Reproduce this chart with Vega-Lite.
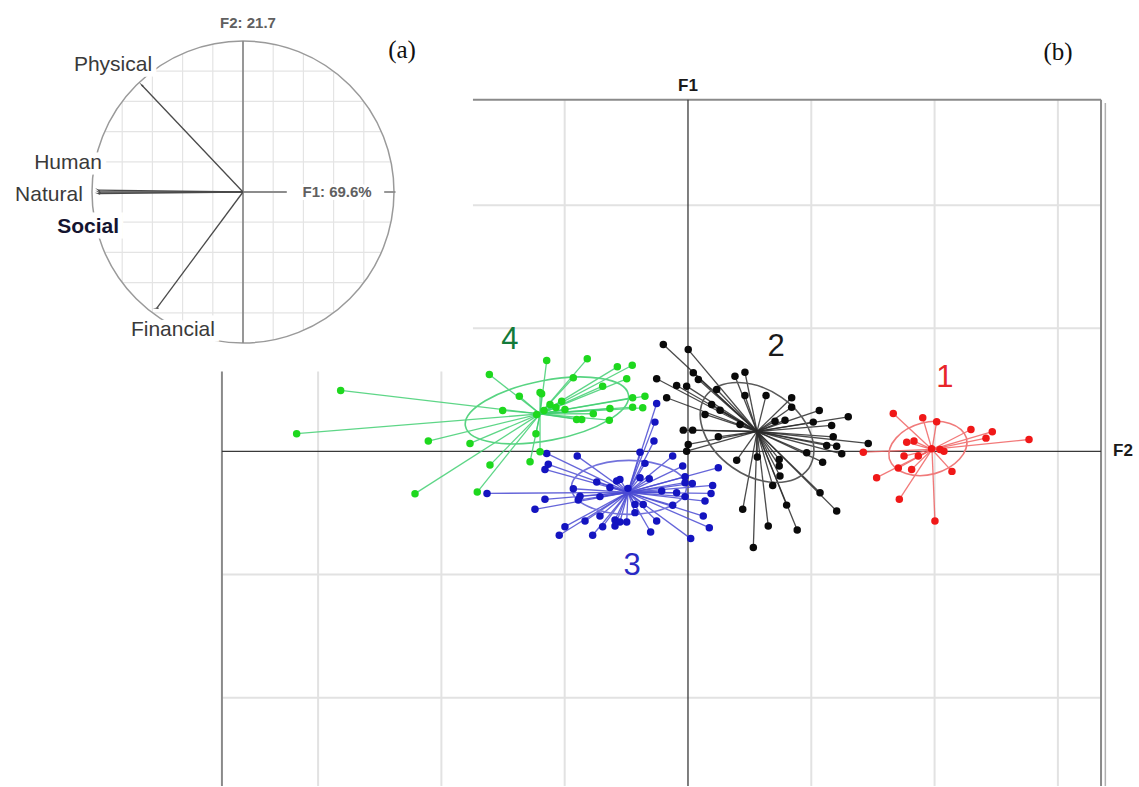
{
  "$schema": "https://vega.github.io/schema/vega-lite/v6.json",
  "width": 1139,
  "height": 787,
  "autosize": {"type": "fit", "contains": "padding"},
  "padding": 0,
  "background": "white",
  "config": {"view": {"stroke": null}},
  "datasets": {
    "gridB": [
      {"x1": -3, "y1": 0.649, "x2": -3, "y2": -2.717},
      {"x1": -2, "y1": 0.649, "x2": -2, "y2": -2.717},
      {"x1": -1, "y1": 2.855, "x2": -1, "y2": -2.717},
      {"x1": 1, "y1": 2.855, "x2": 1, "y2": -2.717},
      {"x1": 2, "y1": 2.855, "x2": 2, "y2": -2.717},
      {"x1": 3, "y1": 2.855, "x2": 3, "y2": -2.717},
      {"x1": -1.744, "y1": 2, "x2": 3.35, "y2": 2},
      {"x1": -1.744, "y1": 1, "x2": 3.35, "y2": 1},
      {"x1": -3.78, "y1": -1, "x2": 3.35, "y2": -1},
      {"x1": -3.78, "y1": -2, "x2": 3.35, "y2": -2}
    ],
    "frameB": [
      {"x1": -1.744, "y1": 2.855, "x2": 3.35, "y2": 2.855},
      {"x1": 3.35, "y1": 2.855, "x2": 3.35, "y2": -2.717},
      {"x1": -3.78, "y1": 0.649, "x2": -3.78, "y2": -2.717}
    ],
    "frameB2": [
      {"x1": 3.385, "y1": 2.83, "x2": 3.385, "y2": -2.717}
    ],
    "axisB": [
      {"x1": 0, "y1": 2.855, "x2": 0, "y2": -2.717},
      {"x1": -3.78, "y1": 0, "x2": 3.35, "y2": 0}
    ],
    "cent": [
      {"c": "1", "cx": 1.979, "cy": 0.016},
      {"c": "2", "cx": 0.560, "cy": 0.162},
      {"c": "3", "cx": -0.487, "cy": -0.333},
      {"c": "4", "cx": -1.200, "cy": 0.305}
    ],
    "ell": [
      {"c": "1", "ex": 1.946, "ey": 0.024},
      {"c": "2", "ex": 0.560, "ey": 0.154},
      {"c": "3", "ex": -0.479, "ey": -0.292},
      {"c": "4", "ex": -1.144, "ey": 0.333}
    ],
    "labB": [
      {"c": "1", "x": 2.084, "y": 0.600},
      {"c": "2", "x": 0.714, "y": 0.852},
      {"c": "3", "x": -0.454, "y": -0.933},
      {"c": "4", "x": -1.444, "y": 0.908}
    ],
    "axlabB": [
      {"t": "F1", "x": 0, "y": 2.968},
      {"t": "F2", "x": 3.528, "y": 0.0}
    ],
    "pts": [
      {"c": "1", "x": 1.665, "y": 0.308}, {"c": "1", "x": 1.904, "y": 0.273}, {"c": "1", "x": 2.017, "y": 0.241},
      {"c": "1", "x": 2.295, "y": 0.178}, {"c": "1", "x": 2.468, "y": 0.160}, {"c": "1", "x": 2.417, "y": 0.108},
      {"c": "1", "x": 2.766, "y": 0.097}, {"c": "1", "x": 1.422, "y": -0.006}, {"c": "1", "x": 1.774, "y": 0.075},
      {"c": "1", "x": 1.833, "y": 0.084}, {"c": "1", "x": 1.752, "y": -0.038}, {"c": "1", "x": 1.868, "y": -0.038},
      {"c": "1", "x": 1.976, "y": 0.022}, {"c": "1", "x": 2.076, "y": 0.002}, {"c": "1", "x": 1.706, "y": -0.135},
      {"c": "1", "x": 1.814, "y": -0.146}, {"c": "1", "x": 2.141, "y": -0.162}, {"c": "1", "x": 1.530, "y": -0.213},
      {"c": "1", "x": 1.714, "y": -0.389}, {"c": "1", "x": 2.003, "y": -0.565}, {"c": "1", "x": 2.044, "y": 0.016},

      {"c": "2", "x": -0.200, "y": 0.868}, {"c": "2", "x": 0.002, "y": 0.827}, {"c": "2", "x": -0.254, "y": 0.590},
      {"c": "2", "x": -0.092, "y": 0.535}, {"c": "2", "x": -0.011, "y": 0.530}, {"c": "2", "x": -0.173, "y": 0.436},
      {"c": "2", "x": 0.043, "y": 0.638}, {"c": "2", "x": 0.084, "y": 0.584}, {"c": "2", "x": 0.381, "y": 0.611},
      {"c": "2", "x": 0.462, "y": 0.643}, {"c": "2", "x": 0.233, "y": 0.503}, {"c": "2", "x": 0.462, "y": 0.454},
      {"c": "2", "x": 0.633, "y": 0.454}, {"c": "2", "x": 0.841, "y": 0.436}, {"c": "2", "x": 0.841, "y": 0.359},
      {"c": "2", "x": 0.192, "y": 0.381}, {"c": "2", "x": 0.260, "y": 0.335}, {"c": "2", "x": 0.138, "y": 0.300},
      {"c": "2", "x": 0.422, "y": 0.219}, {"c": "2", "x": 0.706, "y": 0.246}, {"c": "2", "x": 0.787, "y": 0.254},
      {"c": "2", "x": 1.065, "y": 0.333}, {"c": "2", "x": 1.016, "y": 0.238}, {"c": "2", "x": 1.165, "y": 0.211},
      {"c": "2", "x": 1.300, "y": 0.281}, {"c": "2", "x": 1.178, "y": 0.119}, {"c": "2", "x": 1.206, "y": 0.043},
      {"c": "2", "x": 1.125, "y": 0.049}, {"c": "2", "x": 1.247, "y": -0.019}, {"c": "2", "x": 0.963, "y": -0.011},
      {"c": "2", "x": -0.038, "y": 0.173}, {"c": "2", "x": 0.038, "y": 0.173}, {"c": "2", "x": 0.246, "y": 0.119},
      {"c": "2", "x": 0.002, "y": 0.057}, {"c": "2", "x": -0.011, "y": 0.002}, {"c": "2", "x": 0.395, "y": -0.071},
      {"c": "2", "x": 0.562, "y": -0.046}, {"c": "2", "x": 0.740, "y": -0.065}, {"c": "2", "x": 0.740, "y": -0.119},
      {"c": "2", "x": 0.746, "y": -0.200}, {"c": "2", "x": 1.092, "y": -0.087}, {"c": "2", "x": 0.687, "y": -0.276},
      {"c": "2", "x": 1.071, "y": -0.335}, {"c": "2", "x": 0.800, "y": -0.436}, {"c": "2", "x": 0.444, "y": -0.470},
      {"c": "2", "x": 1.206, "y": -0.484}, {"c": "2", "x": 0.651, "y": -0.606}, {"c": "2", "x": 0.886, "y": -0.638},
      {"c": "2", "x": 0.530, "y": -0.781}, {"c": "2", "x": 1.462, "y": 0.065},

      {"c": "3", "x": -0.254, "y": 0.389}, {"c": "3", "x": -0.268, "y": 0.238}, {"c": "3", "x": -0.276, "y": 0.084},
      {"c": "3", "x": -1.146, "y": -0.016}, {"c": "3", "x": -0.898, "y": -0.038}, {"c": "3", "x": -1.160, "y": -0.146},
      {"c": "3", "x": -1.133, "y": -0.105}, {"c": "3", "x": -0.389, "y": -0.006}, {"c": "3", "x": -0.124, "y": -0.038},
      {"c": "3", "x": -0.043, "y": -0.119}, {"c": "3", "x": -0.349, "y": -0.097}, {"c": "3", "x": -0.740, "y": -0.249},
      {"c": "3", "x": -0.578, "y": -0.241}, {"c": "3", "x": -0.552, "y": -0.227}, {"c": "3", "x": -0.389, "y": -0.213},
      {"c": "3", "x": -0.314, "y": -0.221}, {"c": "3", "x": -0.024, "y": -0.205}, {"c": "3", "x": -0.024, "y": -0.254},
      {"c": "3", "x": 0.035, "y": -0.260}, {"c": "3", "x": -0.213, "y": -0.322}, {"c": "3", "x": -0.092, "y": -0.335},
      {"c": "3", "x": -0.024, "y": -0.367}, {"c": "3", "x": 0.246, "y": -0.132}, {"c": "3", "x": 0.200, "y": -0.276},
      {"c": "3", "x": 0.187, "y": -0.341}, {"c": "3", "x": 0.138, "y": -0.403}, {"c": "3", "x": 0.124, "y": -0.525},
      {"c": "3", "x": 0.173, "y": -0.619}, {"c": "3", "x": 0.022, "y": -0.708}, {"c": "3", "x": -0.930, "y": -0.303},
      {"c": "3", "x": -0.876, "y": -0.363}, {"c": "3", "x": -0.890, "y": -0.395}, {"c": "3", "x": -0.714, "y": -0.367},
      {"c": "3", "x": -1.160, "y": -0.389}, {"c": "3", "x": -1.241, "y": -0.470}, {"c": "3", "x": -0.430, "y": -0.430},
      {"c": "3", "x": -0.363, "y": -0.430}, {"c": "3", "x": -0.124, "y": -0.438}, {"c": "3", "x": -0.430, "y": -0.497},
      {"c": "3", "x": -0.714, "y": -0.525}, {"c": "3", "x": -0.835, "y": -0.565}, {"c": "3", "x": -0.592, "y": -0.557},
      {"c": "3", "x": -0.552, "y": -0.573}, {"c": "3", "x": -0.497, "y": -0.573}, {"c": "3", "x": -0.592, "y": -0.606},
      {"c": "3", "x": -0.254, "y": -0.565}, {"c": "3", "x": -0.692, "y": -0.611}, {"c": "3", "x": -0.998, "y": -0.611},
      {"c": "3", "x": -1.044, "y": -0.681}, {"c": "3", "x": -0.773, "y": -0.681}, {"c": "3", "x": -0.303, "y": -0.654},
      {"c": "3", "x": -1.630, "y": -0.341}, {"c": "3", "x": -0.487, "y": -0.300}, {"c": "3", "x": -0.633, "y": -0.292},

      {"c": "4", "x": -3.174, "y": 0.144}, {"c": "4", "x": -2.817, "y": 0.495}, {"c": "4", "x": -2.106, "y": 0.084},
      {"c": "4", "x": -2.214, "y": -0.343}, {"c": "4", "x": -1.709, "y": -0.330}, {"c": "4", "x": -1.611, "y": 0.624},
      {"c": "4", "x": -1.768, "y": 0.065}, {"c": "4", "x": -1.606, "y": -0.111}, {"c": "4", "x": -1.146, "y": 0.738},
      {"c": "4", "x": -0.817, "y": 0.752}, {"c": "4", "x": -0.573, "y": 0.687}, {"c": "4", "x": -0.452, "y": 0.700},
      {"c": "4", "x": -0.497, "y": 0.590}, {"c": "4", "x": -0.930, "y": 0.598}, {"c": "4", "x": -0.692, "y": 0.530},
      {"c": "4", "x": -1.368, "y": 0.449}, {"c": "4", "x": -1.187, "y": 0.468}, {"c": "4", "x": -1.503, "y": 0.333},
      {"c": "4", "x": -1.227, "y": 0.300}, {"c": "4", "x": -1.024, "y": 0.408}, {"c": "4", "x": -0.998, "y": 0.341},
      {"c": "4", "x": -0.903, "y": 0.260}, {"c": "4", "x": -0.862, "y": 0.260}, {"c": "4", "x": -0.768, "y": 0.306},
      {"c": "4", "x": -0.633, "y": 0.349}, {"c": "4", "x": -0.638, "y": 0.254}, {"c": "4", "x": -0.449, "y": 0.436},
      {"c": "4", "x": -0.349, "y": 0.449}, {"c": "4", "x": -0.449, "y": 0.359}, {"c": "4", "x": -0.367, "y": 0.354},
      {"c": "4", "x": -1.233, "y": 0.144}, {"c": "4", "x": -1.200, "y": -0.002}, {"c": "4", "x": -1.281, "y": -0.084},
      {"c": "4", "x": -1.168, "y": 0.333}, {"c": "4", "x": -1.119, "y": 0.381}, {"c": "4", "x": -1.071, "y": 0.357},
      {"c": "4", "x": -1.200, "y": 0.479}
    ],
    "gridA": [
      {"x1": -0.8, "y1": -0.6, "x2": -0.8, "y2": 0.6},
      {"x1": -0.6, "y1": -0.8, "x2": -0.6, "y2": 0.8},
      {"x1": -0.4, "y1": -0.917, "x2": -0.4, "y2": 0.917},
      {"x1": -0.2, "y1": -0.98, "x2": -0.2, "y2": 0.98},
      {"x1": 0.2, "y1": -0.98, "x2": 0.2, "y2": 0.98},
      {"x1": 0.4, "y1": -0.917, "x2": 0.4, "y2": 0.917},
      {"x1": 0.6, "y1": -0.8, "x2": 0.6, "y2": 0.8},
      {"x1": 0.8, "y1": -0.6, "x2": 0.8, "y2": 0.6},
      {"y1": -0.8, "x1": -0.6, "y2": -0.8, "x2": 0.6},
      {"y1": -0.6, "x1": -0.8, "y2": -0.6, "x2": 0.8},
      {"y1": -0.4, "x1": -0.917, "y2": -0.4, "x2": 0.917},
      {"y1": -0.2, "x1": -0.98, "y2": -0.2, "x2": 0.98},
      {"y1": 0.2, "x1": -0.98, "y2": 0.2, "x2": 0.98},
      {"y1": 0.4, "x1": -0.917, "y2": 0.4, "x2": 0.917},
      {"y1": 0.6, "x1": -0.8, "y2": 0.6, "x2": 0.8},
      {"y1": 0.8, "x1": -0.6, "y2": 0.8, "x2": 0.6}
    ],
    "axisA": [
      {"x1": 0, "y1": -1, "x2": 0, "y2": 1},
      {"x1": 0, "y1": 0, "x2": 0.29, "y2": 0},
      {"x1": 0.935, "y1": 0, "x2": 1.01, "y2": 0}
    ],
    "arrA": [
      {"name": "Physical", "ax": -0.671, "ay": 0.709},
      {"name": "Human", "ax": -0.958, "ay": 0.012},
      {"name": "Natural", "ax": -0.955, "ay": 0.0},
      {"name": "Social", "ax": -0.958, "ay": -0.01},
      {"name": "Financial", "ax": -0.572, "ay": -0.770}
    ],
    "labA": [
      {"t": "Physical", "x": -0.861, "y": 0.841},
      {"t": "Human", "x": -1.159, "y": 0.192},
      {"t": "Natural", "x": -1.285, "y": -0.020},
      {"t": "Financial", "x": -0.464, "y": -0.914}
    ],
    "labAbold": [
      {"t": "Social", "x": -1.026, "y": -0.232}
    ],
    "axlabA": [
      {"t": "F2: 21.7", "x": 0.033, "y": 1.119},
      {"t": "F1: 69.6%", "x": 0.623, "y": 0.0}
    ]
  },
  "layer": [
    {
      "resolve": {"scale": {"color": "independent", "stroke": "independent"}},
      "layer": [
        {
          "data": {"name": "gridB"},
          "mark": {"type": "rule", "stroke": "#e2e2e2", "strokeWidth": 2},
          "encoding": {
            "x": {"field": "x1", "type": "quantitative", "scale": {"domain": [-5.58, 3.658], "nice": false, "zero": false}, "axis": null},
            "y": {"field": "y1", "type": "quantitative", "scale": {"domain": [-2.717, 3.666], "nice": false, "zero": false}, "axis": null},
            "x2": {"field": "x2"},
            "y2": {"field": "y2"}
          }
        },
        {
          "data": {"name": "frameB"},
          "mark": {"type": "rule", "stroke": "#8a8a8a", "strokeWidth": 2},
          "encoding": {
            "x": {"field": "x1", "type": "quantitative"},
            "y": {"field": "y1", "type": "quantitative"},
            "x2": {"field": "x2"},
            "y2": {"field": "y2"}
          }
        },
        {
          "data": {"name": "frameB2"},
          "mark": {"type": "rule", "stroke": "#b0b0b0", "strokeWidth": 1.5},
          "encoding": {
            "x": {"field": "x1", "type": "quantitative"},
            "y": {"field": "y1", "type": "quantitative"},
            "x2": {"field": "x2"},
            "y2": {"field": "y2"}
          }
        },
        {
          "data": {"name": "axisB"},
          "mark": {"type": "rule", "stroke": "#3a3a3a", "strokeWidth": 1.3},
          "encoding": {
            "x": {"field": "x1", "type": "quantitative"},
            "y": {"field": "y1", "type": "quantitative"},
            "x2": {"field": "x2"},
            "y2": {"field": "y2"}
          }
        },
        {
          "data": {"name": "pts"},
          "transform": [{"lookup": "c", "from": {"data": {"name": "cent"}, "key": "c", "fields": ["cx", "cy"]}}],
          "mark": {"type": "rule", "strokeWidth": 1.3, "opacity": 0.85},
          "encoding": {
            "x": {"field": "x", "type": "quantitative"},
            "y": {"field": "y", "type": "quantitative"},
            "x2": {"field": "cx"},
            "y2": {"field": "cy"},
            "stroke": {"field": "c", "type": "nominal", "scale": {"domain": ["1", "2", "3", "4"], "range": ["#f06262", "#2a2a2a", "#4a4ad2", "#42cf72"]}, "legend": null}
          }
        },
        {
          "data": {"name": "ell"},
          "mark": {"type": "point", "filled": false, "size": 40000, "strokeWidth": 1.6, "opacity": 1},
          "encoding": {
            "x": {"field": "ex", "type": "quantitative"},
            "y": {"field": "ey", "type": "quantitative"},
            "shape": {"field": "c", "type": "nominal", "legend": null, "scale": {"domain": ["1", "2", "3", "4"], "range": [
              "M -0.386,0.104 A 0.4,0.27 -15 0 1 0.386,-0.104 A 0.4,0.27 -15 0 1 -0.386,0.104 Z",
              "M -0.516,-0.361 A 0.63,0.44 35 0 1 0.516,0.361 A 0.63,0.44 35 0 1 -0.516,-0.361 Z",
              "M -0.575,0 A 0.575,0.27 0 0 1 0.575,0 A 0.575,0.27 0 0 1 -0.575,0 Z",
              "M -0.815,0.158 A 0.83,0.3 -11 0 1 0.815,-0.158 A 0.83,0.3 -11 0 1 -0.815,0.158 Z"
            ]}},
            "stroke": {"field": "c", "type": "nominal", "scale": {"domain": ["1", "2", "3", "4"], "range": ["#f07a7a", "#5a5a5a", "#7272dc", "#58d482"]}, "legend": null}
          }
        },
        {
          "data": {"name": "pts"},
          "mark": {"type": "point", "filled": true, "shape": "circle", "size": 56, "opacity": 1},
          "encoding": {
            "x": {"field": "x", "type": "quantitative"},
            "y": {"field": "y", "type": "quantitative"},
            "color": {"field": "c", "type": "nominal", "scale": {"domain": ["1", "2", "3", "4"], "range": ["#f01818", "#0a0a0a", "#1414c0", "#1ed81e"]}, "legend": null}
          }
        },
        {
          "data": {"name": "labB"},
          "mark": {"type": "text", "font": "Liberation Sans", "fontSize": 31, "align": "center", "baseline": "middle"},
          "encoding": {
            "x": {"field": "x", "type": "quantitative"},
            "y": {"field": "y", "type": "quantitative"},
            "text": {"field": "c"},
            "color": {"field": "c", "type": "nominal", "scale": {"domain": ["1", "2", "3", "4"], "range": ["#e8262a", "#1a1a1a", "#2a2ac4", "#137a3a"]}, "legend": null}
          }
        },
        {
          "data": {"name": "axlabB"},
          "mark": {"type": "text", "font": "Liberation Sans", "fontSize": 17, "fontWeight": "bold", "align": "center", "baseline": "middle", "color": "#1a1a1a"},
          "encoding": {
            "x": {"field": "x", "type": "quantitative"},
            "y": {"field": "y", "type": "quantitative"},
            "text": {"field": "t"}
          }
        },
        {
          "data": {"values": [{"t": "(b)", "x": 3.001, "y": 3.244}]},
          "mark": {"type": "text", "font": "Liberation Serif", "fontSize": 25, "align": "center", "baseline": "middle", "color": "#111111"},
          "encoding": {
            "x": {"field": "x", "type": "quantitative"},
            "y": {"field": "y", "type": "quantitative"},
            "text": {"field": "t"}
          }
        }
      ]
    },
    {
      "layer": [
        {
          "data": {"name": "gridA"},
          "mark": {"type": "rule", "stroke": "#e4e4e4", "strokeWidth": 1.2},
          "encoding": {
            "x": {"field": "x1", "type": "quantitative", "scale": {"domain": [-1, 1], "range": [92, 394], "nice": false, "zero": false}, "axis": null},
            "y": {"field": "y1", "type": "quantitative", "scale": {"domain": [-1, 1], "range": [343, 41], "nice": false, "zero": false}, "axis": null},
            "x2": {"field": "x2"},
            "y2": {"field": "y2"}
          }
        },
        {
          "data": {"values": [{"x": 0, "y": 0}]},
          "mark": {"type": "point", "shape": "circle", "filled": false, "size": 91204, "stroke": "#9a9a9a", "strokeWidth": 1.5, "opacity": 1},
          "encoding": {
            "x": {"field": "x", "type": "quantitative"},
            "y": {"field": "y", "type": "quantitative"}
          }
        },
        {
          "data": {"name": "axisA"},
          "mark": {"type": "rule", "stroke": "#8c8c8c", "strokeWidth": 1.8},
          "encoding": {
            "x": {"field": "x1", "type": "quantitative"},
            "y": {"field": "y1", "type": "quantitative"},
            "x2": {"field": "x2"},
            "y2": {"field": "y2"}
          }
        },
        {
          "data": {"name": "labA"},
          "mark": {"type": "text", "font": "Liberation Sans", "fontSize": 21, "align": "center", "baseline": "middle", "fill": "white", "stroke": "white", "strokeWidth": 11},
          "encoding": {
            "x": {"field": "x", "type": "quantitative"},
            "y": {"field": "y", "type": "quantitative"},
            "text": {"field": "t"}
          }
        },
        {
          "data": {"name": "labAbold"},
          "mark": {"type": "text", "font": "Liberation Sans", "fontSize": 21, "fontWeight": "bold", "align": "center", "baseline": "middle", "fill": "white", "stroke": "white", "strokeWidth": 11},
          "encoding": {
            "x": {"field": "x", "type": "quantitative"},
            "y": {"field": "y", "type": "quantitative"},
            "text": {"field": "t"}
          }
        },
        {
          "data": {"name": "axlabA"},
          "mark": {"type": "text", "font": "Liberation Sans", "fontSize": 15, "fontWeight": "bold", "align": "center", "baseline": "middle", "fill": "white", "stroke": "white", "strokeWidth": 6},
          "encoding": {
            "x": {"field": "x", "type": "quantitative"},
            "y": {"field": "y", "type": "quantitative"},
            "text": {"field": "t"}
          }
        },
        {
          "data": {"name": "arrA"},
          "mark": {"type": "rule", "stroke": "#4a4a4a", "strokeWidth": 1.3},
          "encoding": {
            "x": {"field": "ax", "type": "quantitative"},
            "y": {"field": "ay", "type": "quantitative"},
            "x2": {"datum": 0},
            "y2": {"datum": 0}
          }
        },
        {
          "data": {"name": "arrA"},
          "mark": {"type": "point", "shape": "wedge", "filled": true, "size": 45, "color": "#4a4a4a", "opacity": 1},
          "encoding": {
            "x": {"field": "ax", "type": "quantitative"},
            "y": {"field": "ay", "type": "quantitative"},
            "angle": {"field": "name", "type": "nominal", "scale": {"domain": ["Physical", "Human", "Natural", "Social", "Financial"], "range": [316.6, 270, 270, 270, 216.6]}, "legend": null}
          }
        },
        {
          "data": {"name": "labA"},
          "mark": {"type": "text", "font": "Liberation Sans", "fontSize": 21, "align": "center", "baseline": "middle", "color": "#3a3a3a"},
          "encoding": {
            "x": {"field": "x", "type": "quantitative"},
            "y": {"field": "y", "type": "quantitative"},
            "text": {"field": "t"}
          }
        },
        {
          "data": {"name": "labAbold"},
          "mark": {"type": "text", "font": "Liberation Sans", "fontSize": 21, "fontWeight": "bold", "align": "center", "baseline": "middle", "color": "#141430"},
          "encoding": {
            "x": {"field": "x", "type": "quantitative"},
            "y": {"field": "y", "type": "quantitative"},
            "text": {"field": "t"}
          }
        },
        {
          "data": {"name": "axlabA"},
          "mark": {"type": "text", "font": "Liberation Sans", "fontSize": 15, "fontWeight": "bold", "align": "center", "baseline": "middle", "color": "#606060"},
          "encoding": {
            "x": {"field": "x", "type": "quantitative"},
            "y": {"field": "y", "type": "quantitative"},
            "text": {"field": "t"}
          }
        },
        {
          "data": {"values": [{"t": "(a)", "x": 1.053, "y": 0.94}]},
          "mark": {"type": "text", "font": "Liberation Serif", "fontSize": 25, "align": "center", "baseline": "middle", "color": "#111111"},
          "encoding": {
            "x": {"field": "x", "type": "quantitative"},
            "y": {"field": "y", "type": "quantitative"},
            "text": {"field": "t"}
          }
        }
      ]
    }
  ],
  "resolve": {"scale": {"x": "independent", "y": "independent"}}
}
